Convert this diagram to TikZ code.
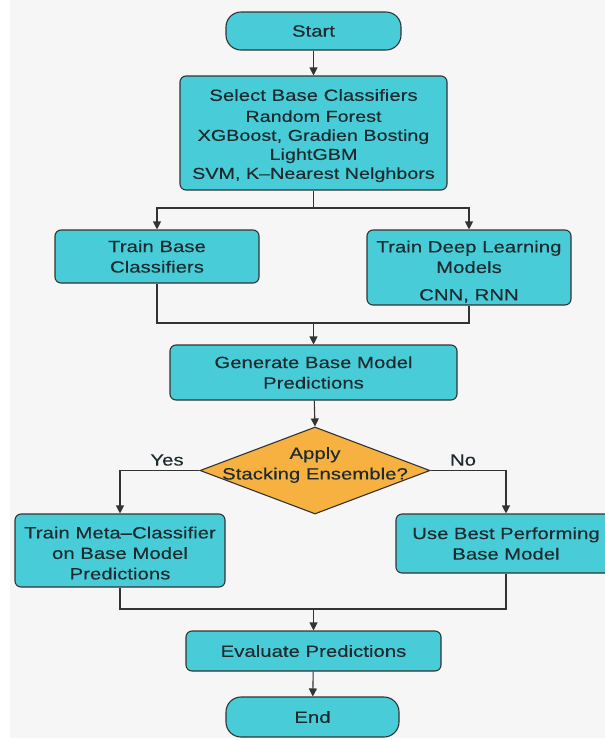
\documentclass[tikz,border=0pt]{standalone}
\usepackage{fontspec}
\setmainfont{Liberation Sans}[FakeStretch=1.25,FakeBold=0.2]
\usetikzlibrary{arrows.meta,shapes.geometric}
\definecolor{boxfill}{HTML}{48CDD8}
\definecolor{decfill}{HTML}{F6B140}
\definecolor{edge}{HTML}{333333}
\definecolor{ink}{HTML}{1E2A2E}
\definecolor{paper}{HTML}{F6F6F6}
\newcommand{\itemfont}{\fontsize{15.8}{19}\selectfont}
\tikzset{
  base/.style={draw=edge, line width=1.1pt, fill=boxfill, text=ink,
    align=center, font=\fontsize{16.3}{20.5}\selectfont, inner sep=0pt},
  procbox/.style={base, rounded corners=6pt},
  pill/.style={base, rounded corners=15pt},
  decision/.style={base, fill=decfill, diamond, aspect=2.65, inner sep=0pt},
  link/.style={draw=edge, line width=1.1pt},
  arrow/.style={link, -{Triangle[length=8pt,width=8pt]}},
  lbl/.style={font=\fontsize{16.3}{20.5}\selectfont, text=ink}
}
\begin{document}
\begin{tikzpicture}[x=1pt,y=-1pt]
  \useasboundingbox (0,0) rectangle (605,740);
  \fill[white] (0,0) rectangle (605,740);
  \fill[paper] (10,0) rectangle (605,738);

  \node[pill, minimum width=175pt, minimum height=38pt] (start) at (313.5,31) {Start};
  \node[procbox, minimum width=267pt, minimum height=114pt] (select) at (313.5,133)
    {\rule{0pt}{17pt}Select Base Classifiers\\[0.5pt]
     \itemfont Random Forest\\[-1.5pt]
     \itemfont XGBoost, Gradien Bosting\\[-1.5pt]
     \itemfont LightGBM\\[-1.5pt]
     \itemfont SVM, K--Nearest Nelghbors};
  \node[procbox, minimum width=204pt, minimum height=53pt] (trainbase) at (157,256.5)
    {Train Base\\Classifiers};
  \node[procbox, minimum width=204pt, minimum height=75pt] (traindl) at (469,267.5)
    {\rule{0pt}{20pt}Train Deep Learning\\Models\\[7pt]CNN, RNN};
  \node[procbox, minimum width=287pt, minimum height=55pt] (gen) at (313.5,372.5)
    {Generate Base Model\\Predictions};
  \node[decision, minimum width=230pt, minimum height=87pt] (dec) at (315,470.5) {};
  \node[lbl, align=center] (dectext) at (315,465) {Apply\\Stacking Ensemble?};
  \node[procbox, minimum width=210pt, minimum height=73pt] (meta) at (120,550.5)
    {\rule{0pt}{17pt}Train Meta--Classifier\\on Base Model\\Predictions};
  \node[procbox, minimum width=220pt, minimum height=59pt, text width=210pt] (best) at (506,543.5)
    {Use Best Performing\\Base Model};
  \node[procbox, minimum width=255pt, minimum height=40pt] (eval) at (313.5,651)
    {Evaluate Predictions};
  \node[pill, minimum width=173pt, minimum height=40pt] (end) at (312.5,717) {End};

  \node[lbl] (yes) at (167,460) {Yes};
  \node[lbl] (no) at (463,460) {No};

  \coordinate (split) at (313.5,208);
  \coordinate (join1) at (313.5,323);
  \coordinate (join2) at (313.5,609);

  \draw[arrow] (start) -- (select);
  \draw[link] (select.south) -- (split);
  \draw[arrow] (split) -| (trainbase.north);
  \draw[arrow] (split) -| (traindl.north);
  \draw[link] (trainbase.south) |- (join1);
  \draw[link] (traindl.south) |- (join1);
  \draw[arrow] (join1) -- (gen.north);
  \draw[arrow] (gen) -- (dec.north);
  \draw[arrow] (dec.west) -| (meta.north);
  \draw[arrow] (dec.east) -| (best.north);
  \draw[link] (meta.south) |- (join2);
  \draw[link] (best.south) |- (join2);
  \draw[arrow] (join2) -- (eval.north);
  \draw[arrow] (eval) -- (end);
\end{tikzpicture}
\end{document}
